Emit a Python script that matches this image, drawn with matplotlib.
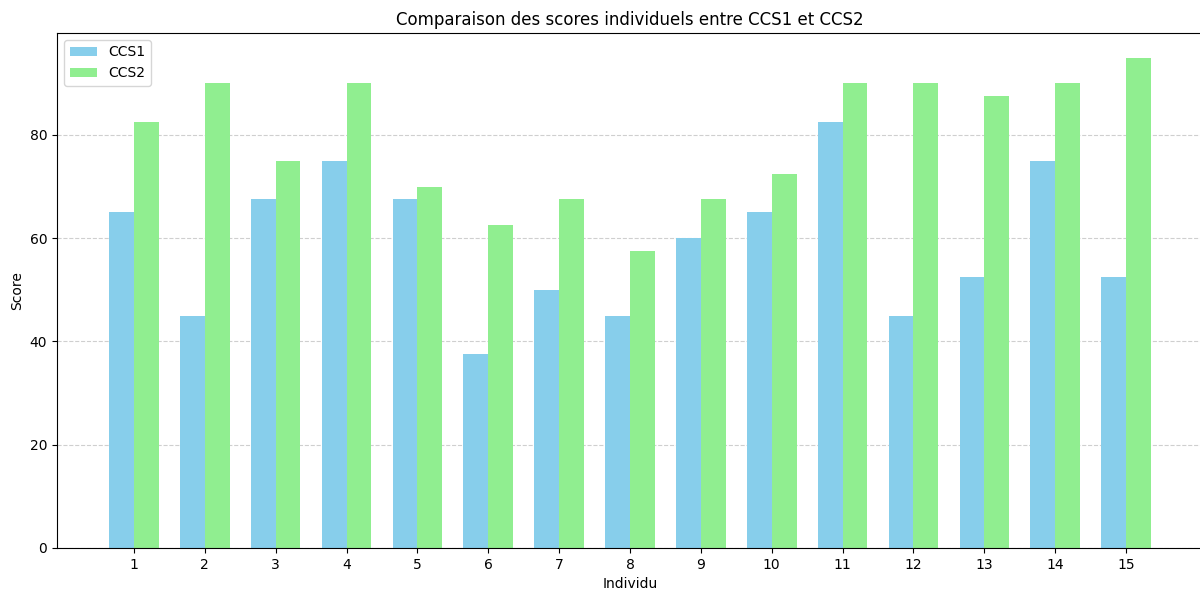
import numpy as np
import matplotlib.pyplot as plt

individus = list(range(1, 16))
ccs1 = [65, 45, 67.5, 75, 67.5, 37.5, 50, 45, 60, 65, 82.5, 45, 52.5, 75, 52.5]
ccs2 = [82.5, 90, 75, 90, 70, 62.5, 67.5, 57.5, 67.5, 72.5, 90, 90, 87.5, 90, 95]

x = np.arange(1, len(individus) + 1)
width = 0.35

fig = plt.figure(figsize=(12, 5.91), dpi=100)
ax = fig.add_axes([0.0475, 0.0728, 0.955, 0.8714])

ax.bar(x - width / 2, ccs1, width, label='CCS1', color='skyblue')
ax.bar(x + width / 2, ccs2, width, label='CCS2', color='lightgreen')

ax.set_xticks(x)
ax.set_xticklabels([str(i) for i in individus])
ax.set_xlabel('Individu')
ax.set_ylabel('Score')
ax.set_title('Comparaison des scores individuels entre CCS1 et CCS2')
ax.legend(loc='upper left')
ax.grid(axis='y', linestyle='--', alpha=0.6)
ax.set_axisbelow(True)

fig.savefig('out.png', dpi=100)
